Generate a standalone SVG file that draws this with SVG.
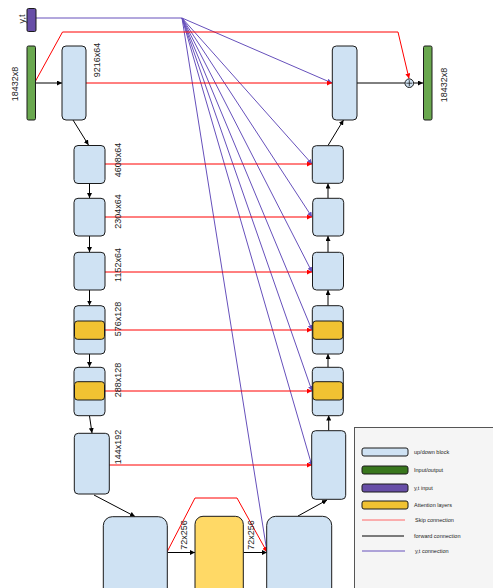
<svg xmlns="http://www.w3.org/2000/svg" width="493" height="588" viewBox="0 0 493 588">
<defs>
<marker id="ab" viewBox="0 0 6 6" refX="6" refY="3" markerWidth="5" markerHeight="5" markerUnits="userSpaceOnUse" orient="auto"><path d="M0,0 L6,3 L0,6 z" fill="#000"/></marker>
<marker id="ar" viewBox="0 0 6 6" refX="6" refY="3" markerWidth="5" markerHeight="5" markerUnits="userSpaceOnUse" orient="auto"><path d="M0,0 L6,3 L0,6 z" fill="#f00"/></marker>
<marker id="ap" viewBox="0 0 6 6" refX="6" refY="3" markerWidth="5" markerHeight="5" markerUnits="userSpaceOnUse" orient="auto"><path d="M0,0 L6,3 L0,6 z" fill="#6650bb"/></marker>
</defs>
<style>
.blk{fill:#cfe2f3;stroke:#1a1a1a;stroke-width:1}
.att{fill:#f1c232;stroke:#1a1a1a;stroke-width:1}
.att2{fill:#ffd966;stroke:#1a1a1a;stroke-width:1}
.grn{fill:#6aa84f;stroke:#1a1a1a;stroke-width:1}
.pur{fill:#674ea7;stroke:#1a1a1a;stroke-width:1}
.lbl{font-family:"Liberation Sans",Arial,sans-serif;font-size:9px;fill:#222;text-anchor:middle}
.leg{font-family:"Liberation Sans",Arial,sans-serif;font-size:5.5px;fill:#222}
.fw{stroke:#000;stroke-width:1;fill:none;marker-end:url(#ab)}
.sk{stroke:#f00;stroke-width:1;fill:none;marker-end:url(#ar)}
.yt{stroke:#6650bb;stroke-width:1;fill:none;marker-end:url(#ap)}
</style>
<rect width="493" height="588" fill="#fff"/>

<g id="legend">
<rect x="354.5" y="427.5" width="145" height="170" fill="#f5f5f5" stroke="#555" stroke-width="1"/>
<rect x="362" y="448" width="46" height="8" rx="2" class="blk"/>
<text x="414" y="454" class="leg">up/down block</text>
<rect x="362" y="466" width="46" height="8" rx="2" fill="#38761d" stroke="#1a1a1a"/>
<text x="414" y="472" class="leg">Input/output</text>
<rect x="362" y="484" width="46" height="8" rx="2" class="pur"/>
<text x="414" y="490" class="leg">y,t input</text>
<rect x="362" y="501" width="46" height="8" rx="2" class="att"/>
<text x="414" y="507" class="leg">Attention layers</text>
<line x1="362" y1="520" x2="405" y2="520" stroke="#ff6666" stroke-width="1"/>
<text x="415" y="522" class="leg">Skip connection</text>
<line x1="362" y1="536" x2="404" y2="536" stroke="#000" stroke-width="1"/>
<text x="414" y="538" class="leg">forward connection</text>
<line x1="362" y1="551" x2="405" y2="551" stroke="#6650bb" stroke-width="1"/>
<text x="415" y="553" class="leg">y,t connection</text>
</g>

<g id="connectors">
<!-- y,t input to hub -->
<line x1="36" y1="18" x2="182" y2="18" stroke="#6650bb" stroke-width="1"/>
<!-- purple fan -->
<line x1="182" y1="18" x2="332" y2="83" class="yt"/>
<line x1="182" y1="18" x2="312" y2="164" class="yt"/>
<line x1="182" y1="18" x2="312" y2="217" class="yt"/>
<line x1="182" y1="18" x2="312" y2="272" class="yt"/>
<line x1="182" y1="18" x2="312" y2="330" class="yt"/>
<line x1="182" y1="18" x2="312" y2="391" class="yt"/>
<line x1="182" y1="18" x2="312" y2="466" class="yt"/>
<line x1="182" y1="18" x2="267" y2="552" class="yt"/>
<!-- skip connections -->
<polyline points="35,82 62.5,32 398,32 409,78.5" class="sk"/>
<line x1="86" y1="83" x2="332" y2="83" class="sk"/>
<line x1="105" y1="164" x2="312" y2="164" class="sk"/>
<line x1="105" y1="217" x2="312" y2="217" class="sk"/>
<line x1="105" y1="272" x2="312" y2="272" class="sk"/>
<line x1="105" y1="330" x2="312" y2="330" class="sk"/>
<line x1="105" y1="391" x2="312" y2="391" class="sk"/>
<line x1="109" y1="465" x2="312" y2="465" class="sk"/>
<polyline points="167,552 195,498 237,498 267,552" class="sk"/>
<!-- forward connections -->
<line x1="35.5" y1="83" x2="62" y2="83" class="fw"/>
<line x1="73" y1="120" x2="88.5" y2="145" class="fw"/>
<line x1="89.5" y1="183.5" x2="89.5" y2="198" class="fw"/>
<line x1="89.5" y1="236" x2="89.5" y2="252" class="fw"/>
<line x1="89.5" y1="290" x2="89.5" y2="305.5" class="fw"/>
<line x1="89.5" y1="354" x2="89.5" y2="367" class="fw"/>
<line x1="89.5" y1="416" x2="92" y2="433" class="fw"/>
<line x1="94" y1="495" x2="135" y2="516.5" class="fw"/>
<line x1="167.5" y1="552.5" x2="195" y2="552.5" class="fw"/>
<line x1="243.5" y1="552.5" x2="267" y2="552.5" class="fw"/>
<line x1="298" y1="516" x2="327" y2="500" class="fw"/>
<line x1="328.7" y1="430.5" x2="328.7" y2="415.5" class="fw"/>
<line x1="328" y1="367" x2="328" y2="354" class="fw"/>
<line x1="328" y1="305.5" x2="328" y2="290" class="fw"/>
<line x1="328" y1="252" x2="328" y2="236" class="fw"/>
<line x1="328" y1="198" x2="328" y2="183.5" class="fw"/>
<line x1="328" y1="145.5" x2="343.5" y2="120" class="fw"/>
<line x1="357" y1="83" x2="405" y2="83" stroke="#000" stroke-width="1"/>
<line x1="413.7" y1="83" x2="423" y2="83" class="fw"/>
</g>

<g id="yt-input">
<rect x="27" y="8.5" width="9" height="23" rx="1.5" class="pur"/>
<text transform="translate(24.5,19) rotate(-90)" class="lbl">y,t</text>
</g>

<g id="input">
<rect x="27" y="46" width="8.5" height="74" rx="1.5" class="grn"/>
<text transform="translate(17.5,84) rotate(-90)" class="lbl">18432x8</text>
</g>

<g id="output">
<rect x="423.5" y="46" width="8.5" height="74" rx="1.5" class="grn"/>
<text transform="translate(447,85) rotate(-90)" class="lbl">18432x8</text>
</g>

<g id="sum">
<circle cx="409.3" cy="83.2" r="4.3" fill="#cfe2f3" stroke="#1a1a1a" stroke-width="1"/>
<path d="M406.3,83.2 H412.3 M409.3,80.2 V86.2" stroke="#1a1a1a" stroke-width="0.8"/>
</g>

<g id="enc1">
<rect x="62" y="46" width="24" height="74" rx="4" class="blk"/>
<text transform="translate(100,60) rotate(-90)" class="lbl">9216x64</text>
</g>
<g id="enc2">
<rect x="74" y="145.5" width="31" height="38" rx="4" class="blk"/>
<text transform="translate(121,160) rotate(-90)" class="lbl">4608x64</text>
</g>
<g id="enc3">
<rect x="74" y="198.3" width="31" height="37.7" rx="4" class="blk"/>
<text transform="translate(121,211.5) rotate(-90)" class="lbl">2304x64</text>
</g>
<g id="enc4">
<rect x="74" y="252.3" width="31" height="37.7" rx="4" class="blk"/>
<text transform="translate(121,265) rotate(-90)" class="lbl">1152x64</text>
</g>
<g id="enc5">
<rect x="74" y="305.7" width="31" height="48.3" rx="4" class="blk"/>
<rect x="74.5" y="321" width="30" height="18.3" rx="3" class="att"/>
<text transform="translate(121,319) rotate(-90)" class="lbl">576x128</text>
</g>
<g id="enc6">
<rect x="74" y="367.3" width="31" height="48.4" rx="4" class="blk"/>
<rect x="74.5" y="381.7" width="30" height="18.3" rx="3" class="att"/>
<text transform="translate(121,380) rotate(-90)" class="lbl">288x128</text>
</g>
<g id="enc7">
<rect x="74.3" y="433.3" width="35" height="60.7" rx="4" class="blk"/>
<text transform="translate(121,447) rotate(-90)" class="lbl">144x192</text>
</g>

<g id="bottleneck1">
<rect x="103.3" y="516.7" width="64" height="85" rx="9" class="blk"/>
<text transform="translate(187,535) rotate(-90)" class="lbl">72x256</text>
</g>
<g id="bottleneck-attention">
<rect x="195" y="516.3" width="48.3" height="85" rx="8" class="att2"/>
<text transform="translate(253.5,535) rotate(-90)" class="lbl">72x256</text>
</g>
<g id="bottleneck2">
<rect x="266.7" y="516.3" width="65" height="85" rx="9" class="blk"/>
</g>

<g id="dec7">
<rect x="311.7" y="430.7" width="34" height="68.6" rx="4" class="blk"/>
</g>
<g id="dec6">
<rect x="312.3" y="367.3" width="31" height="48.4" rx="4" class="blk"/>
<rect x="312.8" y="381.7" width="30" height="18.3" rx="3" class="att"/>
</g>
<g id="dec5">
<rect x="312.3" y="305.7" width="31" height="48.3" rx="4" class="blk"/>
<rect x="312.8" y="321" width="30" height="18.3" rx="3" class="att"/>
</g>
<g id="dec4">
<rect x="312.5" y="252.3" width="31" height="37.7" rx="4" class="blk"/>
</g>
<g id="dec3">
<rect x="312.7" y="198.3" width="31" height="37.7" rx="4" class="blk"/>
</g>
<g id="dec2">
<rect x="312.3" y="145.7" width="31" height="37.6" rx="4" class="blk"/>
</g>
<g id="dec1">
<rect x="332.3" y="46" width="24.7" height="74" rx="4" class="blk"/>
</g>
</svg>
